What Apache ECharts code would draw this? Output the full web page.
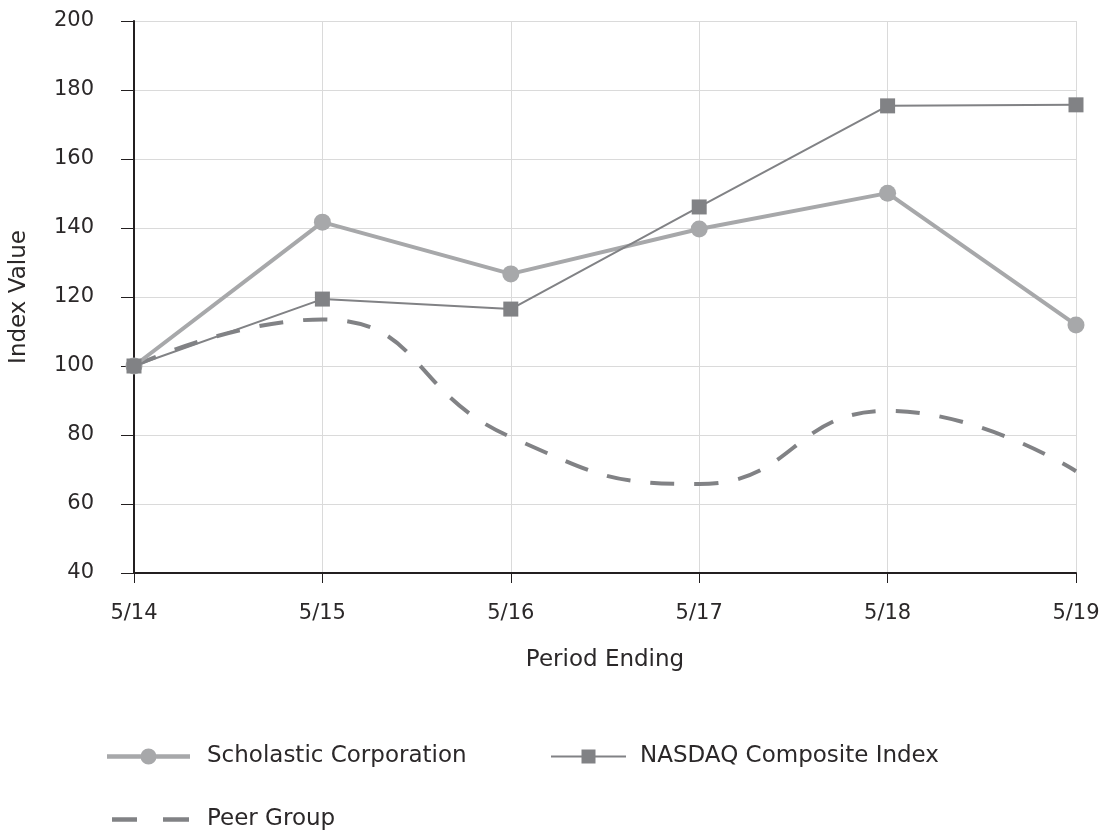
<!DOCTYPE html>
<html><head><meta charset="utf-8">
<script src="https://cdn.jsdelivr.net/npm/echarts@6/dist/echarts.min.js"></script>
<style>html,body{margin:0;padding:0;background:#fff}#c{width:1103px;height:830px}</style>
</head><body><div id="c"></div>
<script>
const categories = ['5/14','5/15','5/16','5/17','5/18','5/19'];
const scholastic = [100, 141.7, 126.7, 139.7, 150.1, 111.9];
const nasdaq = [100, 119.4, 116.5, 146.1, 175.4, 175.7];
const peer = [100, 113.5, 79.4, 65.8, 87, 69.5];
const yTicks = {min: 40, max: 200, interval: 20};
const seriesNames = ['Scholastic Corporation', 'NASDAQ Composite Index', 'Peer Group'];

const font = '"DejaVu Sans", sans-serif';
const txt = '#2b2829';
const fs = 21;
const fsName = 23;
const mkLegendText = (pad) => ({fontSize: fsName, color: txt, fontFamily: font, padding: [0, 0, 0, pad]});
const icoCircle = 'path://M0,5.8 L83,5.8 L83,10.2 L0,10.2 Z M33.5,8 a8,8 0 1,1 16,0 a8,8 0 1,1 -16,0 Z';
const icoSquare = 'path://M0,7 L75,7 L75,9 L0,9 Z M30.5,1 L44.5,1 L44.5,15 L30.5,15 Z';
const icoDash = 'path://M0,0 L0.01,0 Z M83,16 L82.99,16 Z M5,5.8 L30,5.8 L30,10.2 L5,10.2 Z M56,5.8 L82,5.8 L82,10.2 L56,10.2 Z';

const chart = echarts.init(document.getElementById('c'), null, {renderer: 'canvas'});
chart.setOption({
  animation: false,
  backgroundColor: '#fff',
  textStyle: {fontFamily: font},
  grid: {left: 133, right: 27, top: 21, bottom: 257},
  xAxis: {
    type: 'category', data: categories, boundaryGap: false,
    name: 'Period Ending', nameLocation: 'middle', nameGap: 76,
    nameTextStyle: {fontSize: fsName, color: txt, fontFamily: font},
    axisLine: {lineStyle: {color: '#231f20', width: 2}},
    axisTick: {show: true, length: 10, lineStyle: {color: '#231f20', width: 1}},
    axisLabel: {fontSize: fs, color: txt, margin: 30, fontFamily: font},
    splitLine: {show: true, lineStyle: {color: '#dadada', width: 1}}
  },
  yAxis: {
    type: 'value', min: yTicks.min, max: yTicks.max, interval: yTicks.interval,
    name: 'Index Value', nameLocation: 'middle', nameGap: 103,
    nameTextStyle: {fontSize: fsName, color: txt, fontFamily: font},
    axisLine: {show: true, lineStyle: {color: '#231f20', width: 2}},
    axisTick: {show: true, length: 13, lineStyle: {color: '#231f20', width: 1}},
    axisLabel: {fontSize: fs, color: txt, margin: 40, fontFamily: font},
    splitLine: {show: true, lineStyle: {color: '#dadada', width: 1}}
  },
  legend: [{
    data: [{name: seriesNames[0], icon: icoCircle}], padding: 0,
    left: 107, top: 745, itemWidth: 83, itemHeight: 16, textStyle: mkLegendText(12)
  }, {
    data: [{name: seriesNames[1], icon: icoSquare}], padding: 0,
    left: 551, top: 745, itemWidth: 75, itemHeight: 16, textStyle: mkLegendText(9)
  }, {
    data: [{name: seriesNames[2], icon: icoDash}], padding: 0,
    left: 107, top: 808, itemWidth: 83, itemHeight: 16, textStyle: mkLegendText(12)
  }],
  series: [{
    name: seriesNames[0], type: 'line', data: scholastic,
    symbol: 'circle', symbolSize: 17, z: 3,
    itemStyle: {color: '#a7a8aa'}, lineStyle: {color: '#a7a8aa', width: 4}
  }, {
    name: seriesNames[1], type: 'line', data: nasdaq,
    symbol: 'rect', symbolSize: 15, z: 4,
    itemStyle: {color: '#818285'}, lineStyle: {color: '#818285', width: 2}
  }, {
    name: seriesNames[2], type: 'line', data: peer, smooth: 0.5,
    showSymbol: false, symbol: 'none', z: 2,
    itemStyle: {color: '#818285'},
    lineStyle: {color: '#818285', width: 4, type: [24, 20]}
  }]
});
</script></body></html>
